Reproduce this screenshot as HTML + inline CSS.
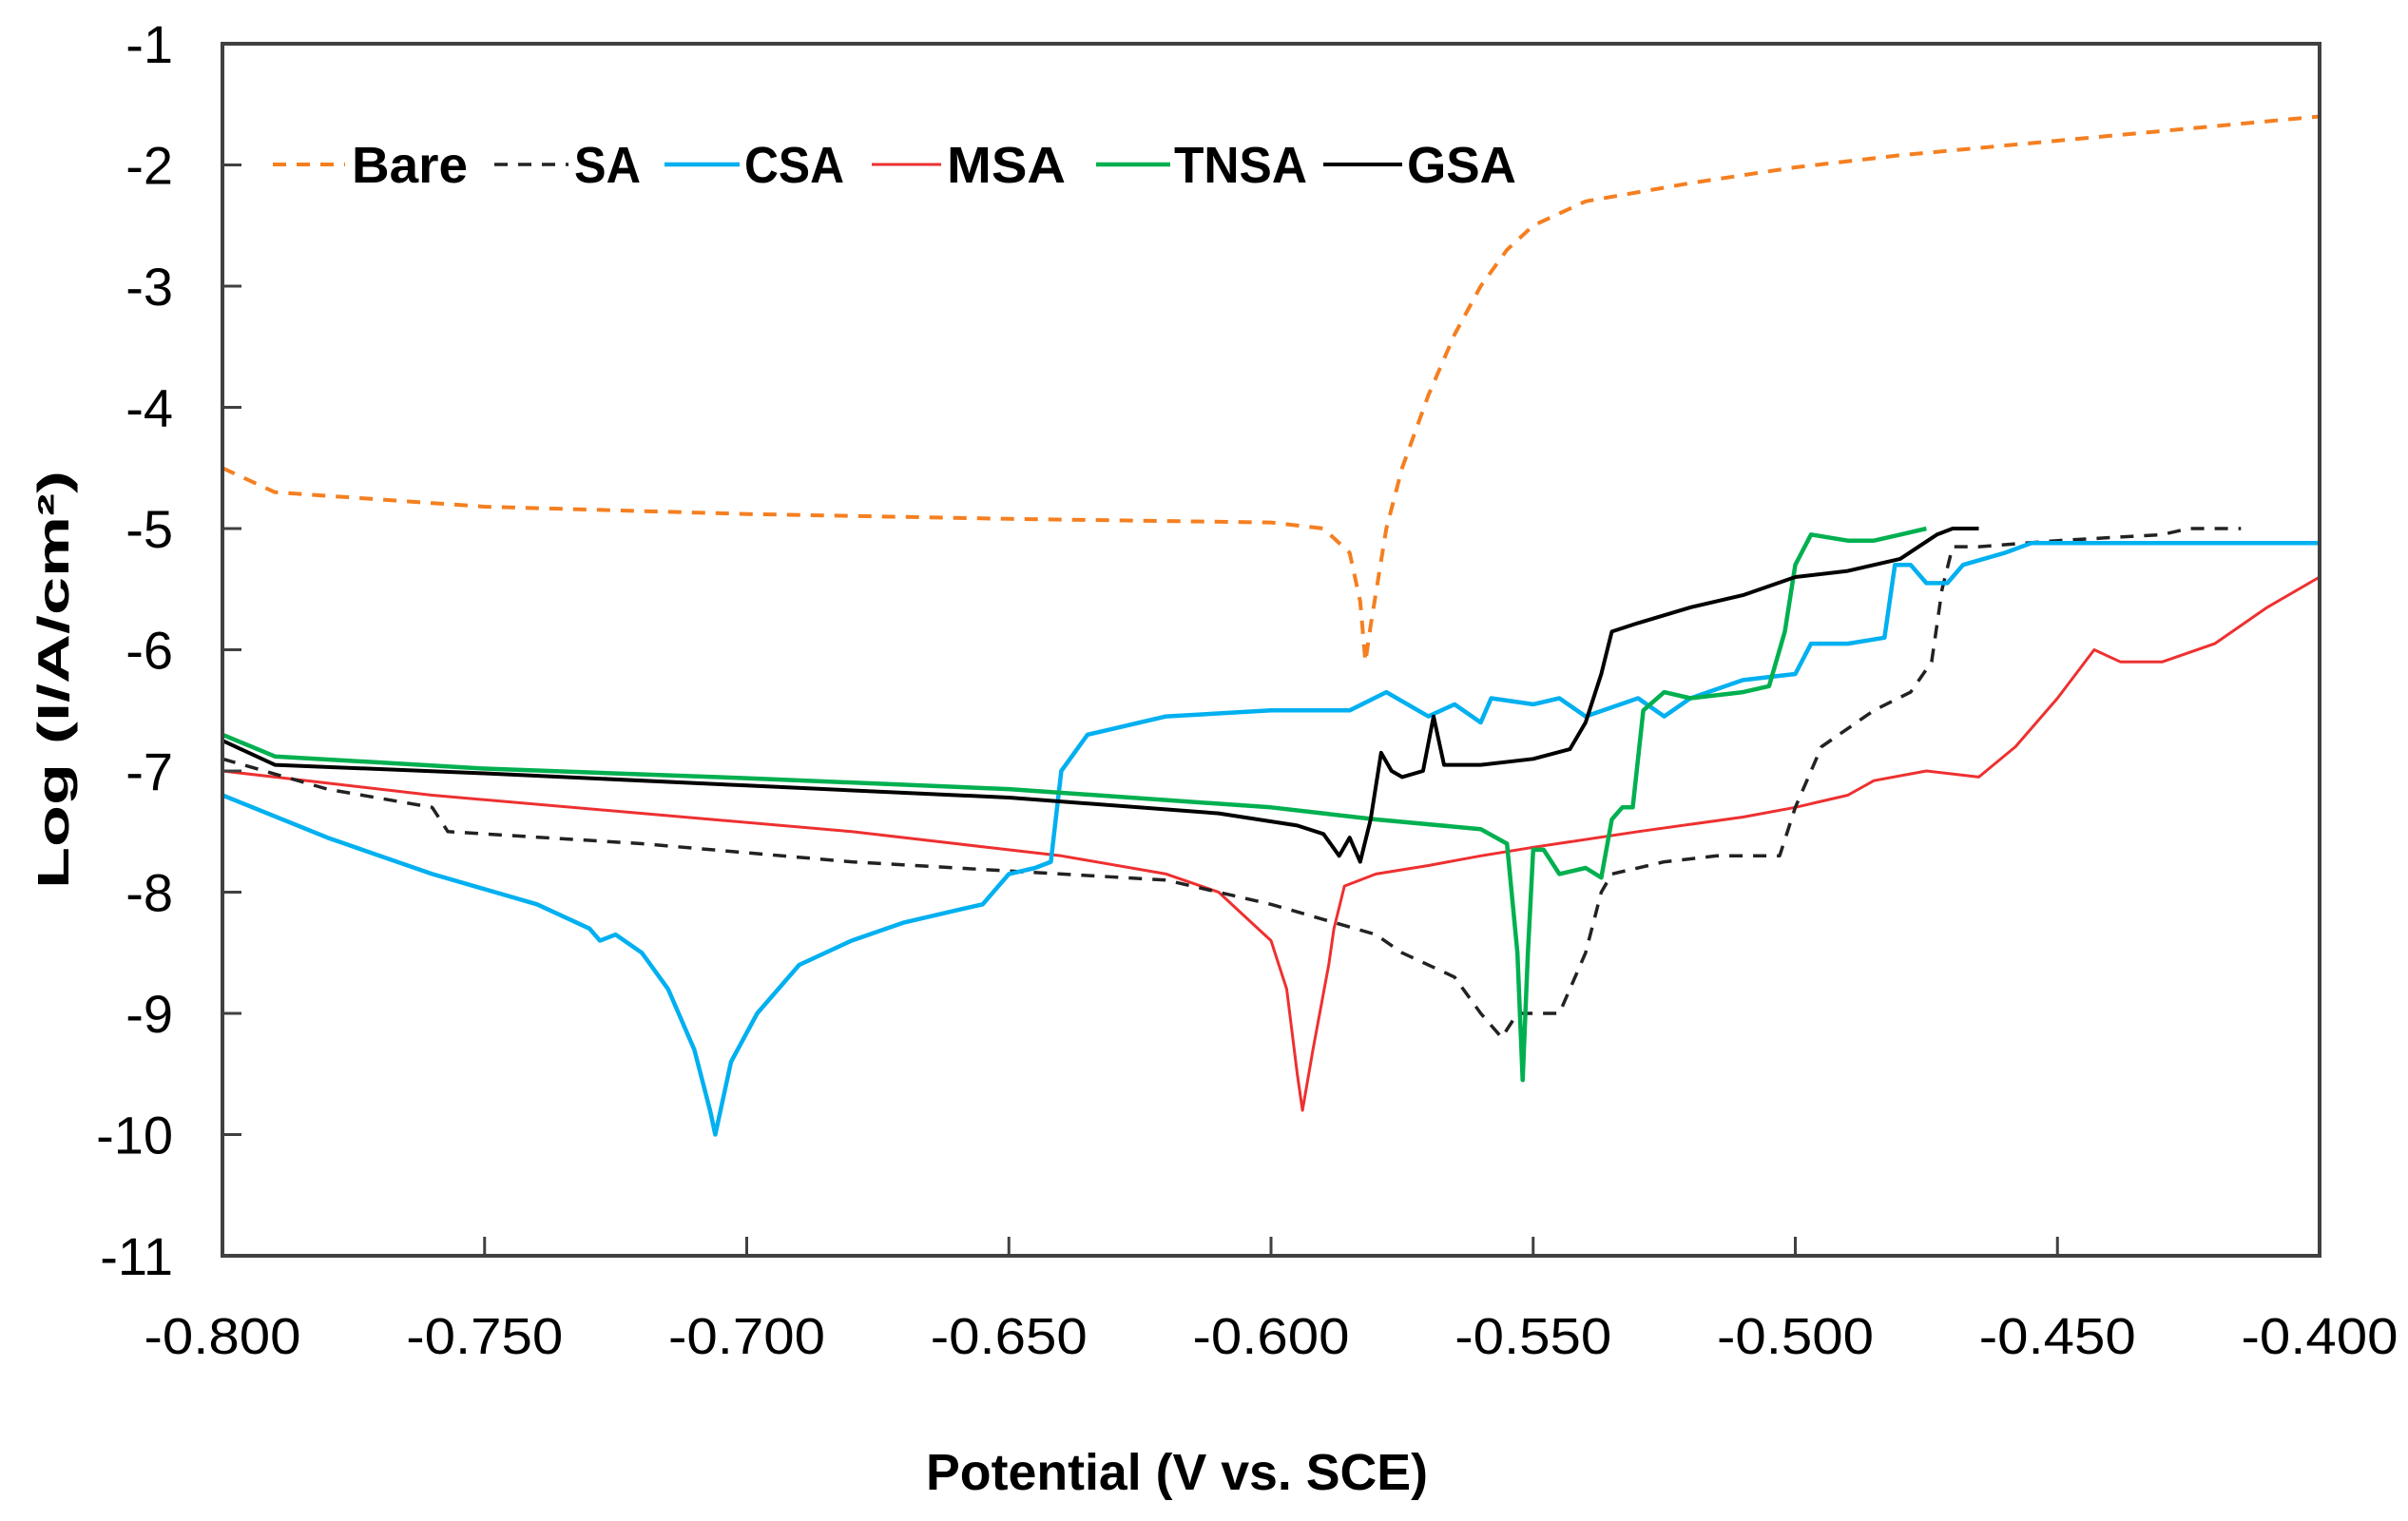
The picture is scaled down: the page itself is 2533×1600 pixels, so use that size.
<!DOCTYPE html>
<html><head><meta charset="utf-8"><style>
html,body{margin:0;padding:0;background:#fff;}
svg text{font-family:"Liberation Sans",sans-serif;}
</style></head><body>
<svg id="chart" width="2533" height="1595" viewBox="0 0 2533 1595" xmlns="http://www.w3.org/2000/svg">
<rect x="0" y="0" width="2533" height="1595" fill="#fff"/>
<g id="grid"></g>
<g id="series"></g>
<g id="axes"></g>
<g id="legend"></g>
<text x="0" y="0" transform="translate(72,715) rotate(-90)" text-anchor="middle" font-size="46" font-weight="bold" fill="#000" textLength="440" lengthAdjust="spacingAndGlyphs">Log (I/A/cm²)</text>
<text x="1238" y="1567" text-anchor="middle" font-size="54" font-weight="bold" fill="#000" textLength="528" lengthAdjust="spacingAndGlyphs">Potential (V vs. SCE)</text>
</svg>
<script>
const xTicks = [-0.8,-0.75,-0.7,-0.65,-0.6,-0.55,-0.5,-0.45,-0.4];
const xTickLabels = ["-0.800","-0.750","-0.700","-0.650","-0.600","-0.550","-0.500","-0.450","-0.400"];
const yTicks = [-1,-2,-3,-4,-5,-6,-7,-8,-9,-10,-11];
const yTickLabels = ["-1","-2","-3","-4","-5","-6","-7","-8","-9","-10","-11"];
const seriesNames = ["Bare","SA","CSA","MSA","TNSA","GSA"];

const bareE = [-0.8,-0.79,-0.75,-0.7,-0.65,-0.6,-0.59,-0.585,-0.583,-0.582,-0.581,-0.578,-0.575,-0.57,-0.565,-0.56,-0.555,-0.55,-0.54,-0.52,-0.5,-0.48,-0.45,-0.42,-0.4];
const bareI = [-4.5,-4.7,-4.82,-4.88,-4.92,-4.95,-5.0,-5.2,-5.6,-6.1,-5.8,-5.0,-4.5,-3.9,-3.4,-3.0,-2.7,-2.5,-2.3,-2.15,-2.02,-1.92,-1.8,-1.68,-1.6];

const saE = [-0.8,-0.78,-0.76,-0.757,-0.72,-0.68,-0.66,-0.64,-0.62,-0.6,-0.58,-0.575,-0.565,-0.56,-0.556,-0.553,-0.545,-0.54,-0.537,-0.535,-0.525,-0.515,-0.503,-0.5,-0.495,-0.49,-0.485,-0.478,-0.474,-0.472,-0.47,-0.465,-0.45,-0.43,-0.425,-0.415];
const saI = [-6.9,-7.15,-7.3,-7.5,-7.6,-7.75,-7.8,-7.85,-7.9,-8.1,-8.35,-8.5,-8.7,-9.0,-9.2,-9.0,-9.0,-8.5,-8.0,-7.85,-7.75,-7.7,-7.7,-7.3,-6.8,-6.65,-6.5,-6.35,-6.1,-5.5,-5.15,-5.15,-5.1,-5.05,-5.0,-5.0];

const csaE = [-0.8,-0.78,-0.76,-0.74,-0.73,-0.728,-0.725,-0.72,-0.715,-0.71,-0.707,-0.706,-0.703,-0.698,-0.69,-0.68,-0.67,-0.66,-0.655,-0.65,-0.645,-0.642,-0.64,-0.635,-0.63,-0.625,-0.62,-0.6,-0.585,-0.578,-0.57,-0.565,-0.56,-0.558,-0.55,-0.545,-0.54,-0.53,-0.525,-0.52,-0.51,-0.5,-0.497,-0.49,-0.483,-0.481,-0.478,-0.475,-0.471,-0.468,-0.46,-0.455,-0.4];
const csaI = [-7.2,-7.55,-7.85,-8.1,-8.3,-8.4,-8.35,-8.5,-8.8,-9.3,-9.8,-10.0,-9.4,-9.0,-8.6,-8.4,-8.25,-8.15,-8.1,-7.85,-7.8,-7.75,-7.0,-6.7,-6.65,-6.6,-6.55,-6.5,-6.5,-6.35,-6.55,-6.45,-6.6,-6.4,-6.45,-6.4,-6.55,-6.4,-6.55,-6.4,-6.25,-6.2,-5.95,-5.95,-5.9,-5.3,-5.3,-5.45,-5.45,-5.3,-5.2,-5.12,-5.12];

const msaE = [-0.8,-0.79,-0.76,-0.72,-0.68,-0.64,-0.62,-0.61,-0.605,-0.6,-0.597,-0.595,-0.594,-0.592,-0.589,-0.588,-0.586,-0.58,-0.57,-0.56,-0.55,-0.53,-0.51,-0.5,-0.49,-0.485,-0.475,-0.465,-0.458,-0.45,-0.443,-0.438,-0.43,-0.42,-0.41,-0.4];
const msaI = [-7.0,-7.05,-7.2,-7.35,-7.5,-7.7,-7.85,-8.0,-8.2,-8.4,-8.8,-9.5,-9.8,-9.3,-8.6,-8.3,-7.95,-7.85,-7.78,-7.7,-7.63,-7.5,-7.38,-7.3,-7.2,-7.08,-7.0,-7.05,-6.8,-6.4,-6.0,-6.1,-6.1,-5.95,-5.65,-5.4];

const tnsaE = [-0.8,-0.79,-0.75,-0.7,-0.65,-0.6,-0.58,-0.56,-0.555,-0.553,-0.552,-0.551,-0.55,-0.548,-0.545,-0.54,-0.537,-0.535,-0.533,-0.531,-0.529,-0.525,-0.52,-0.51,-0.505,-0.502,-0.5,-0.497,-0.49,-0.485,-0.48,-0.475];
const tnsaI = [-6.7,-6.88,-6.98,-7.06,-7.15,-7.3,-7.4,-7.48,-7.6,-8.5,-9.55,-8.5,-7.65,-7.65,-7.85,-7.8,-7.88,-7.4,-7.3,-7.3,-6.5,-6.35,-6.4,-6.35,-6.3,-5.85,-5.3,-5.05,-5.1,-5.1,-5.05,-5.0];

const gsaE = [-0.8,-0.79,-0.75,-0.7,-0.65,-0.61,-0.595,-0.59,-0.587,-0.585,-0.583,-0.581,-0.579,-0.577,-0.575,-0.571,-0.569,-0.567,-0.56,-0.55,-0.543,-0.54,-0.537,-0.535,-0.53,-0.52,-0.51,-0.5,-0.49,-0.48,-0.473,-0.47,-0.465];
const gsaI = [-6.75,-6.95,-7.02,-7.12,-7.22,-7.35,-7.45,-7.52,-7.7,-7.55,-7.75,-7.4,-6.85,-7.0,-7.05,-7.0,-6.55,-6.95,-6.95,-6.9,-6.82,-6.6,-6.2,-5.85,-5.78,-5.65,-5.55,-5.4,-5.35,-5.25,-5.05,-5.0,-5.0];

const PL=234, PR=2440, PT=46, PB=1321;
const X0=-0.8, X1=-0.4, Y0=-11, Y1=-1;
function xs(v){return PL+(v-X0)/(X1-X0)*(PR-PL);}
function ys(v){return PB-(v-Y0)/(Y1-Y0)*(PB-PT);}
const NS="http://www.w3.org/2000/svg";
function mk(tag,attrs,parent){const e=document.createElementNS(NS,tag);for(const k in attrs)e.setAttribute(k,attrs[k]);parent.appendChild(e);return e;}

const axes=document.getElementById('axes');
const frame=mk('rect',{x:PL,y:PT,width:PR-PL,height:PB-PT,fill:'none',stroke:'#404040','stroke-width':4},axes);


yTicks.forEach((t,i)=>{
  const y=ys(t);
  const tk=mk('line',{x1:PL,x2:PL+20,y1:y,y2:y,stroke:'#404040','stroke-width':3},axes);
  
  
  const tx=mk('text',{x:182,y:y+20,'text-anchor':'end','font-size':56,fill:'#000'},axes);
  tx.textContent=yTickLabels[i];
  
  
});
xTicks.forEach((t,i)=>{
  const x=xs(t);
  const tk=mk('line',{x1:x,x2:x,y1:PB,y2:PB-20,stroke:'#404040','stroke-width':3},axes);
  
  
  const tx=mk('text',{x:x,y:1424,'text-anchor':'middle','font-size':54,fill:'#000',textLength:165,lengthAdjust:'spacingAndGlyphs'},axes);
  tx.textContent=xTickLabels[i];
  
  
});

const styles=[
  {c:'#F57F20',d:'14 11',w:4},
  {c:'#222',d:'14 11',w:3.5},
  {c:'#00B0F0',d:'',w:4.5},
  {c:'#EE3030',d:'',w:3},
  {c:'#00B050',d:'',w:4.5},
  {c:'#000',d:'',w:4}
];
const Es=[bareE,saE,csaE,msaE,tnsaE,gsaE];
const Is=[bareI,saI,csaI,msaI,tnsaI,gsaI];
const sg=document.getElementById('series');
[3,1,2,4,5,0].forEach(k=>{
  const pts=Es[k].map((e,j)=>xs(e).toFixed(1)+','+ys(Is[k][j]).toFixed(1)).join(' ');
  const p=mk('polyline',{points:pts,fill:'none',stroke:styles[k].c,'stroke-width':styles[k].w,'stroke-linejoin':'round'},sg);
  if(styles[k].d)p.setAttribute('stroke-dasharray',styles[k].d);
  
  
});

const leg=document.getElementById('legend');
const legLine=[[287,363],[520,598],[699,778],[917,990],[1153,1231],[1392,1475]];
const legText=[370,604,783,996,1235,1480];
const legW=[122,70,105,125,140,115];
seriesNames.forEach((n,k)=>{
  const ln=mk('line',{x1:legLine[k][0],x2:legLine[k][1],y1:173,y2:173,stroke:styles[k].c,'stroke-width':styles[k].w},leg);
  if(styles[k].d)ln.setAttribute('stroke-dasharray',styles[k].d);
  
  
  const tx=mk('text',{x:legText[k],y:192,'font-size':54,'font-weight':'bold',fill:'#000',textLength:legW[k],lengthAdjust:'spacingAndGlyphs'},leg);
  tx.textContent=n;
  
  
});
</script>
</body></html>
